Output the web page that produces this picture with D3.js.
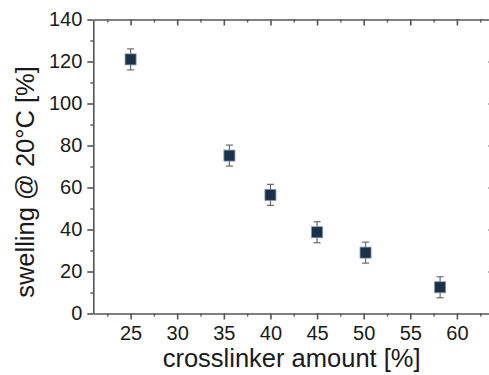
<!DOCTYPE html>
<html>
<head>
<meta charset="utf-8">
<script src="https://cdn.jsdelivr.net/npm/d3@7"></script>
<style>
  html, body { margin: 0; padding: 0; background: #fff; }
  svg { display: block; font-family: "Liberation Sans", Arial, sans-serif; }
</style>
</head>
<body>
<svg id="chart" width="489" height="375"></svg>
<script>
// Swelling at 20 °C versus crosslinker amount
const crosslinker = [25, 35.6, 40, 45, 50.2, 58.2];
const swelling    = [121, 75.2, 56.5, 38.7, 29, 12.5];
const swellingErr = [5, 5, 5, 5, 5, 5];

const xMajorTicks = [25, 30, 35, 40, 45, 50, 55, 60];
const xMinorTicks = [22.5, 27.5, 32.5, 37.5, 42.5, 47.5, 52.5, 57.5, 62.5];
const yMajorTicks = [0, 20, 40, 60, 80, 100, 120, 140];
const yMinorTicks = [10, 30, 50, 70, 90, 110, 130];

const xTitle = "crosslinker amount [%]";
const yTitle = "swelling @ 20°C [%]";

const svg = d3.select("#chart");
const plotLeft = 93.3, plotRight = 494.2, plotTop = 19.5, plotBottom = 313.5;

const x = d3.scaleLinear().domain([21, 64]).range([plotLeft, plotRight]);
const y = d3.scaleLinear().domain([0, 140]).range([plotBottom, plotTop]);

const axisColor = "#555";
const textColor = "#1a1a1a";

function styleAxis(g, majorWidth) {
  g.select(".domain").attr("stroke", axisColor).attr("stroke-width", 1.6);
  g.selectAll(".tick line").attr("stroke", axisColor).attr("stroke-width", majorWidth);
  g.selectAll(".tick text").attr("fill", textColor).attr("font-size", 20)
    .attr("font-family", '"Liberation Sans", Arial, sans-serif');
}
function minorStyle(g) {
  g.select(".domain").remove();
  g.selectAll(".tick line").attr("stroke", axisColor).attr("stroke-width", 1.4);
}

// bottom axis: outward ticks with labels
const gBottom = svg.append("g").attr("transform", `translate(0,${plotBottom})`)
  .call(d3.axisBottom(x).tickValues(xMajorTicks).tickSize(6).tickSizeOuter(0).tickPadding(6)
    .tickFormat(d3.format("d")));
styleAxis(gBottom, 1.6);
svg.append("g").attr("transform", `translate(0,${plotBottom})`)
  .call(d3.axisBottom(x).tickValues(xMinorTicks).tickSize(3).tickSizeOuter(0).tickFormat(""))
  .call(minorStyle);

// top axis: inward ticks, no labels
const gTop = svg.append("g").attr("transform", `translate(0,${plotTop})`)
  .call(d3.axisTop(x).tickValues(xMajorTicks).tickSize(-6).tickSizeOuter(0).tickFormat(""));
styleAxis(gTop, 1.6);
svg.append("g").attr("transform", `translate(0,${plotTop})`)
  .call(d3.axisTop(x).tickValues(xMinorTicks).tickSize(-3).tickSizeOuter(0).tickFormat(""))
  .call(minorStyle);

// left axis: outward ticks with labels
const gLeft = svg.append("g").attr("transform", `translate(${plotLeft},0)`)
  .call(d3.axisLeft(y).tickValues(yMajorTicks).tickSize(6).tickSizeOuter(0).tickPadding(5)
    .tickFormat(d3.format("d")));
styleAxis(gLeft, 1.6);
svg.append("g").attr("transform", `translate(${plotLeft},0)`)
  .call(d3.axisLeft(y).tickValues(yMinorTicks).tickSize(3).tickSizeOuter(0).tickFormat(""))
  .call(minorStyle);

// right axis: inward ticks only (its line sits at the frame edge)
const gRight = svg.append("g").attr("transform", `translate(${plotRight},0)`)
  .call(d3.axisRight(y).tickValues(yMajorTicks.slice(1, -1)).tickSize(-6).tickSizeOuter(0).tickFormat(""));
styleAxis(gRight, 1.2);
gRight.select(".domain").remove();

// axis titles
svg.append("text")
  .attr("x", (plotLeft + 490) / 2).attr("y", 367)
  .attr("text-anchor", "middle").attr("font-size", 25.5).attr("fill", textColor)
  .text(xTitle);
svg.append("text")
  .attr("transform", "translate(34,182) rotate(-90)")
  .attr("text-anchor", "middle").attr("font-size", 25.5).attr("fill", textColor)
  .text(yTitle);

// data with error bars
const data = crosslinker.map((c, i) => ({ c, s: swelling[i], e: swellingErr[i] }));
const pts = svg.append("g").selectAll("g").data(data).join("g");
const cap = 3.5;
pts.append("line")
  .attr("x1", d => x(d.c)).attr("x2", d => x(d.c))
  .attr("y1", d => y(d.s - d.e)).attr("y2", d => y(d.s + d.e))
  .attr("stroke", "#6b6b6b").attr("stroke-width", 1.2);
pts.append("line")
  .attr("x1", d => x(d.c) - cap).attr("x2", d => x(d.c) + cap)
  .attr("y1", d => y(d.s + d.e)).attr("y2", d => y(d.s + d.e))
  .attr("stroke", "#6b6b6b").attr("stroke-width", 1.2);
pts.append("line")
  .attr("x1", d => x(d.c) - cap).attr("x2", d => x(d.c) + cap)
  .attr("y1", d => y(d.s - d.e)).attr("y2", d => y(d.s - d.e))
  .attr("stroke", "#6b6b6b").attr("stroke-width", 1.2);
const sz = 11;
pts.append("rect")
  .attr("x", d => x(d.c) - sz / 2).attr("y", d => y(d.s) - sz / 2)
  .attr("width", sz).attr("height", sz)
  .attr("fill", "#1b3149").attr("stroke", "#7f93a8").attr("stroke-width", 0.8);
</script>
</body>
</html>
